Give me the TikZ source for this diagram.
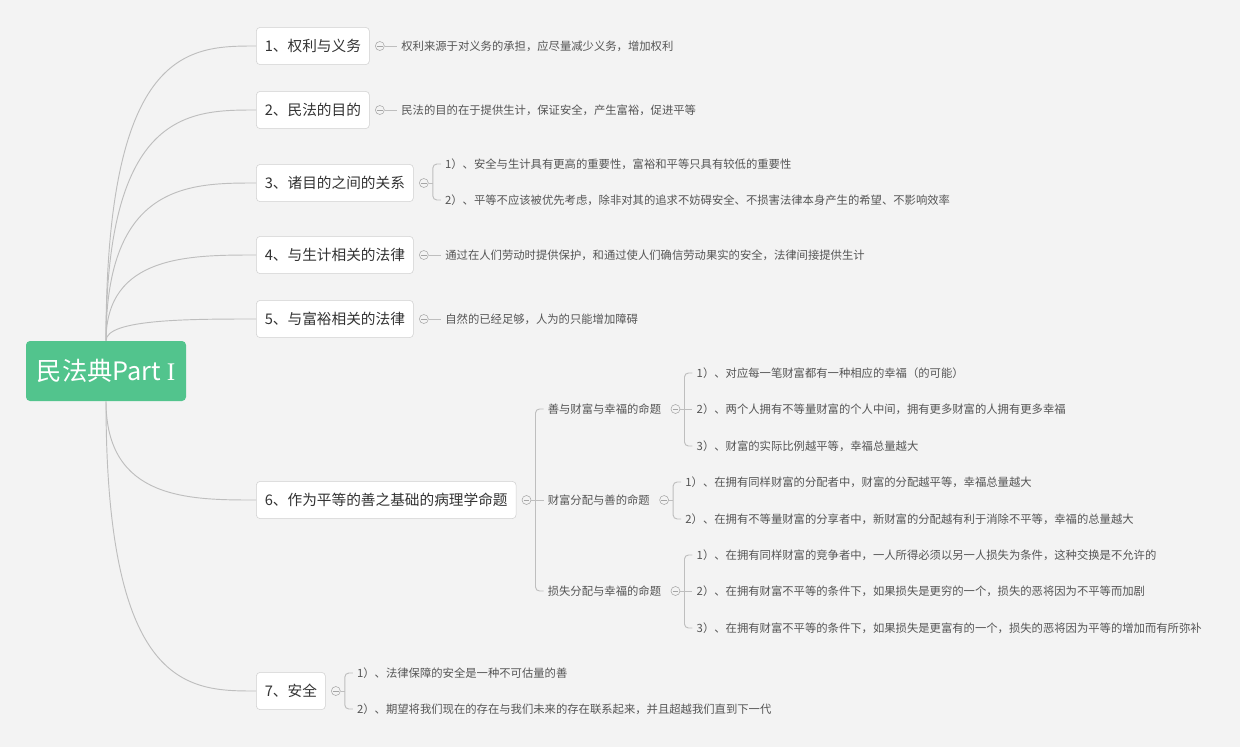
\documentclass[tikz,border=0pt]{standalone}
\usepackage{fontspec}
\setmainfont{Noto Sans CJK SC}
\newfontfamily\romanI{Liberation Serif}
\usepackage{xcolor}
\usetikzlibrary{positioning}
\definecolor{canvas}{RGB}{243,243,243}
\definecolor{rootgreen}{RGB}{82,196,141}
\definecolor{boxline}{RGB}{208,208,208}
\definecolor{linkgray}{RGB}{190,190,190}
\definecolor{togglegray}{RGB}{165,165,165}
\definecolor{boxtext}{RGB}{51,51,51}
\definecolor{leaftext}{RGB}{85,85,85}

\begin{document}
\begin{tikzpicture}[
    x=0.75pt, y=-0.75pt,
    rootbox/.style={rectangle, rounded corners=3pt, fill=rootgreen, text=white,
                    minimum width=120pt, minimum height=45pt, inner xsep=7.5pt,
                    font=\fontsize{19}{22}\selectfont},
    topic/.style={rectangle, rounded corners=3pt, draw=boxline, fill=white,
                  anchor=west, minimum height=28pt, inner xsep=6.4pt,
                  text=boxtext, font=\fontsize{11}{13}\selectfont},
    leaf/.style={anchor=west, inner xsep=3pt, inner ysep=1pt, text=leaftext,
                 font=\fontsize{8.5}{10}\selectfont},
    toggle/.style={circle, draw=togglegray, fill=canvas, minimum size=6.75pt, inner sep=0pt,
                   path picture={\draw[togglegray, line width=0.5pt]
                     ([xshift=-2pt]path picture bounding box.center) --
                     ([xshift=2pt]path picture bounding box.center);}},
    link/.style={draw=linkgray, line width=0.7pt}
]
\fill[canvas] (0,0) rectangle (1240,747);
\useasboundingbox (0,0) rectangle (1240,747);

% main topic and branches
\node[rootbox] (root) at (106,371) {民法典Part {\romanI I}};
\node[topic] (rights)   at (256,46)  {1、权利与义务};
\node[topic] (purpose)  at (256,110) {2、民法的目的};
\node[topic] (relation) at (256,183) {3、诸目的之间的关系};
\node[topic] (subsist)  at (256,255) {4、与生计相关的法律};
\node[topic] (abund)    at (256,319) {5、与富裕相关的法律};
\node[topic] (equal)    at (256,500) {6、作为平等的善之基础的病理学命题};
\node[topic] (safety)   at (256,691) {7、安全};

\foreach \t in {rights,purpose,relation,subsist,abund,equal,safety}
  \draw[link] (root) .. controls (root.center |- \t.west) and ([xshift=-50pt]\t.west) .. (\t.west);

% single notes
\node[toggle] (rightstog)   [right=4pt of rights]   {};
\node[toggle] (purposetog)  [right=4pt of purpose]  {};
\node[toggle] (subsisttog)  [right=4pt of subsist]  {};
\node[toggle] (abundtog)    [right=4pt of abund]    {};
\node[leaf] (rightsnote)  [right=9.4pt of rightstog]  {权利来源于对义务的承担，应尽量减少义务，增加权利};
\node[leaf] (purposenote) [right=9.4pt of purposetog] {民法的目的在于提供生计，保证安全，产生富裕，促进平等};
\node[leaf] (subsistnote) [right=9.4pt of subsisttog] {通过在人们劳动时提供保护，和通过使人们确信劳动果实的安全，法律间接提供生计};
\node[leaf] (abundnote)   [right=9.4pt of abundtog]   {自然的已经足够，人为的只能增加障碍};
\draw[link] (rightstog) -- (rightsnote.west);
\draw[link] (purposetog) -- (purposenote.west);
\draw[link] (subsisttog) -- (subsistnote.west);
\draw[link] (abundtog) -- (abundnote.west);

% 3
\node[toggle] (relationtog) [right=4pt of relation] {};
\node[leaf, xshift=12.75pt] (rel1) at (relationtog.center |- 0,164) {1）、安全与生计具有更高的重要性，富裕和平等只具有较低的重要性};
\node[leaf, xshift=12.75pt] (rel2) at (relationtog.center |- 0,200) {2）、平等不应该被优先考虑，除非对其的追求不妨碍安全、不损害法律本身产生的希望、不影响效率};
\coordinate (relk) at ([xshift=6.75pt]relationtog.center);
\draw[link] (relationtog) -- (relk);
\draw[link, rounded corners=3pt] (rel1.west) -| (relk) |- (rel2.west);

% 6
\node[toggle] (equaltog) [right=4pt of equal] {};
\node[leaf, xshift=12.75pt] (goodwealth) at (equaltog.center |- 0,409) {善与财富与幸福的命题};
\node[leaf, xshift=12.75pt] (distrib)    at (equaltog.center |- 0,500) {财富分配与善的命题};
\node[leaf, xshift=12.75pt] (loss)       at (equaltog.center |- 0,591) {损失分配与幸福的命题};
\coordinate (equalk) at ([xshift=6.75pt]equaltog.center);
\draw[link] (equaltog) -- (distrib.west);
\draw[link, rounded corners=3pt] (goodwealth.west) -| (equalk) |- (loss.west);

\node[toggle] (goodwealthtog) [right=4pt of goodwealth] {};
\node[leaf, xshift=12.75pt] (gw1) at (goodwealthtog.center |- 0,373) {1）、对应每一笔财富都有一种相应的幸福（的可能）};
\node[leaf, xshift=12.75pt] (gw2) at (goodwealthtog.center |- 0,409) {2）、两个人拥有不等量财富的个人中间，拥有更多财富的人拥有更多幸福};
\node[leaf, xshift=12.75pt] (gw3) at (goodwealthtog.center |- 0,446) {3）、财富的实际比例越平等，幸福总量越大};
\coordinate (gwk) at ([xshift=6.75pt]goodwealthtog.center);
\draw[link] (goodwealthtog) -- (gw2.west);
\draw[link, rounded corners=3pt] (gw1.west) -| (gwk) |- (gw3.west);

\node[toggle] (distribtog) [right=4pt of distrib] {};
\node[leaf, xshift=12.75pt] (dis1) at (distribtog.center |- 0,482) {1）、在拥有同样财富的分配者中，财富的分配越平等，幸福总量越大};
\node[leaf, xshift=12.75pt] (dis2) at (distribtog.center |- 0,519) {2）、在拥有不等量财富的分享者中，新财富的分配越有利于消除不平等，幸福的总量越大};
\coordinate (disk) at ([xshift=6.75pt]distribtog.center);
\draw[link] (distribtog) -- (disk);
\draw[link, rounded corners=3pt] (dis1.west) -| (disk) |- (dis2.west);

\node[toggle] (losstog) [right=4pt of loss] {};
\node[leaf, xshift=12.75pt] (loss1) at (losstog.center |- 0,555) {1）、在拥有同样财富的竞争者中，一人所得必须以另一人损失为条件，这种交换是不允许的};
\node[leaf, xshift=12.75pt] (loss2) at (losstog.center |- 0,591) {2）、在拥有财富不平等的条件下，如果损失是更穷的一个，损失的恶将因为不平等而加剧};
\node[leaf, xshift=12.75pt] (loss3) at (losstog.center |- 0,628) {3）、在拥有财富不平等的条件下，如果损失是更富有的一个，损失的恶将因为平等的增加而有所弥补};
\coordinate (lossk) at ([xshift=6.75pt]losstog.center);
\draw[link] (losstog) -- (loss2.west);
\draw[link, rounded corners=3pt] (loss1.west) -| (lossk) |- (loss3.west);

% 7
\node[toggle] (safetytog) [right=4pt of safety] {};
\node[leaf, xshift=12.75pt] (safe1) at (safetytog.center |- 0,673) {1）、法律保障的安全是一种不可估量的善};
\node[leaf, xshift=12.75pt] (safe2) at (safetytog.center |- 0,709) {2）、期望将我们现在的存在与我们未来的存在联系起来，并且超越我们直到下一代};
\coordinate (safek) at ([xshift=6.75pt]safetytog.center);
\draw[link] (safetytog) -- (safek);
\draw[link, rounded corners=3pt] (safe1.west) -| (safek) |- (safe2.west);
\end{tikzpicture}
\end{document}
